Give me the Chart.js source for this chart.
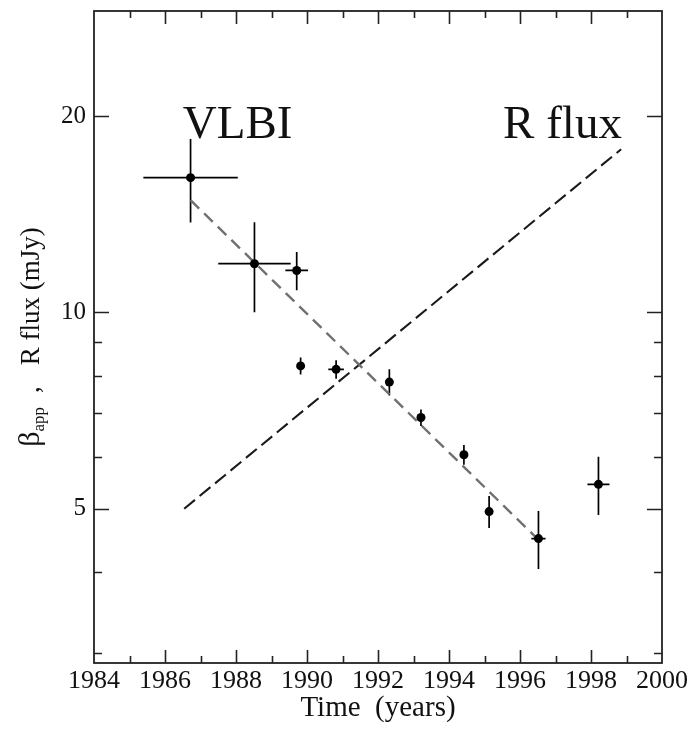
<!DOCTYPE html>
<html><head><meta charset="utf-8">
<script src="https://cdn.jsdelivr.net/npm/chart.js@4/dist/chart.umd.min.js"></script>
<style>html,body{margin:0;padding:0;background:#fff}</style>
</head><body>
<canvas id="c" width="693" height="729"></canvas>
<script>
// ---- data ----
const years    = [1986.72, 1988.52, 1989.71, 1989.82, 1990.82, 1992.32, 1993.21, 1994.42, 1995.13, 1996.52, 1998.21];
const beta     = [16.1, 11.88, 11.6, 8.28, 8.18, 7.82, 6.90, 6.05, 4.95, 4.50, 5.45];
const betaErr  = [2.36, 1.87, 0.78, 0.25, 0.27, 0.36, 0.20, 0.21, 0.28, 0.46, 0.56];
const yearErr  = [1.33, 1.02, 0.32, 0, 0.22, 0, 0, 0, 0, 0.20, 0.31];
const vlbiFitYears = [1986.72, 1996.45];
const vlbiFitVals  = [14.87, 4.52];
const rfluxYears   = [1986.54, 1998.85];
const rfluxVals    = [5.0, 17.8];
const xTickLabels  = [1984, 1986, 1988, 1990, 1992, 1994, 1996, 1998, 2000];
const xMinorTicks  = [1985, 1987, 1989, 1991, 1993, 1995, 1997, 1999];
const yTickLabels  = [5, 10, 20];
const yMinorTicks  = [3, 4, 6, 7, 8, 9];

const SERIF = "'Liberation Serif','Times New Roman',serif";
const notes = [
  {text: 'VLBI',   x: 1986.5,  y: 18.5, align: 'left'},
  {text: 'R flux', x: 1998.87, y: 18.5, align: 'right'}
];

const xAll = [...xTickLabels, ...xMinorTicks].sort((a,b)=>a-b);
const yAll = [...yTickLabels, ...yMinorTicks].sort((a,b)=>a-b);

const errorBars = {
  id: 'errorBars',
  beforeDatasetsDraw(chart) {
    const {ctx, scales: {x, y}} = chart;
    ctx.save();
    ctx.strokeStyle = '#000';
    ctx.lineWidth = 1.7;
    ctx.beginPath();
    years.forEach((t, i) => {
      const px = x.getPixelForValue(t), py = y.getPixelForValue(beta[i]);
      ctx.moveTo(px, y.getPixelForValue(beta[i] + betaErr[i]));
      ctx.lineTo(px, y.getPixelForValue(beta[i] - betaErr[i]));
      if (yearErr[i] > 0) {
        ctx.moveTo(x.getPixelForValue(t - yearErr[i]), py);
        ctx.lineTo(x.getPixelForValue(t + yearErr[i]), py);
      }
    });
    ctx.stroke();
    ctx.restore();
  }
};

const frame = {
  id: 'frame',
  afterDraw(chart) {
    const {ctx, chartArea: a, scales: {x, y}} = chart;
    ctx.save();
    ctx.strokeStyle = '#222';
    ctx.lineWidth = 1.8;
    ctx.strokeRect(a.left, a.top, a.right - a.left, a.bottom - a.top);
    ctx.lineWidth = 1.6;
    ctx.beginPath();
    xAll.forEach(v => {
      if (v <= x.min || v >= x.max) return;
      const px = Math.round(x.getPixelForValue(v)) + 0.5;
      const len = xTickLabels.includes(v) ? 13 : 7;
      ctx.moveTo(px, a.bottom); ctx.lineTo(px, a.bottom - len);
      ctx.moveTo(px, a.top); ctx.lineTo(px, a.top + len);
    });
    yAll.forEach(v => {
      const py = Math.round(y.getPixelForValue(v)) + 0.5;
      const len = yTickLabels.includes(v) ? 15 : 8;
      ctx.moveTo(a.left, py); ctx.lineTo(a.left + len, py);
      ctx.moveTo(a.right, py); ctx.lineTo(a.right - len, py);
    });
    ctx.stroke();

    // annotations
    ctx.fillStyle = '#111';
    ctx.font = `47px ${SERIF}`;
    ctx.textBaseline = 'alphabetic';
    notes.forEach(n => {
      ctx.textAlign = n.align;
      ctx.fillText(n.text, x.getPixelForValue(n.x), y.getPixelForValue(n.y));
    });

    // y axis title with subscript
    const midY = (a.top + a.bottom) / 2;
    ctx.translate(39, midY);
    ctx.rotate(-Math.PI / 2);
    ctx.textAlign = 'left';
    const fMain = `27px ${SERIF}`, fBeta = `30px ${SERIF}`, fSub = `17px ${SERIF}`;
    ctx.font = fBeta; const wb = ctx.measureText('\u03b2').width;
    ctx.font = fSub;  const ws = ctx.measureText('app').width;
    ctx.font = fMain; const wc = ctx.measureText(',').width;
    const wr = ctx.measureText('R flux (mJy)').width;
    const gap1 = 14, gap2 = 21;
    const total = wb + ws + gap1 + wc + gap2 + wr;
    let cx = -total / 2;
    ctx.font = fBeta; ctx.fillText('\u03b2', cx, 0); cx += wb;
    ctx.font = fSub;  ctx.fillText('app', cx, 5); cx += ws + gap1;
    ctx.font = fMain; ctx.fillText(',', cx, 0); cx += wc + gap2;
    ctx.fillText('R flux (mJy)', cx, 0);
    ctx.restore();
  }
};

new Chart(document.getElementById('c'), {
  type: 'scatter',
  data: {
    datasets: [
      {
        label: 'beta_app',
        data: years.map((t, i) => ({x: t, y: beta[i]})),
        pointRadius: 4.5, pointHoverRadius: 4.5,
        backgroundColor: '#000', borderWidth: 0, showLine: false
      },
      {
        label: 'VLBI fit',
        data: vlbiFitYears.map((t, i) => ({x: t, y: vlbiFitVals[i]})),
        showLine: true, pointRadius: 0, borderColor: '#707070',
        borderWidth: 2.4, borderDash: [12, 7], fill: false
      },
      {
        label: 'R flux',
        data: rfluxYears.map((t, i) => ({x: t, y: rfluxVals[i]})),
        showLine: true, pointRadius: 0, borderColor: '#1a1a1a',
        borderWidth: 2.1, borderDash: [14, 6], fill: false
      }
    ]
  },
  options: {
    responsive: false,
    animation: false,
    devicePixelRatio: 1,
    layout: {padding: {top: 11, right: 31, bottom: 0, left: 0}},
    plugins: {legend: {display: false}, tooltip: {enabled: false}},
    scales: {
      x: {
        type: 'linear', min: 1984, max: 2000,
        afterBuildTicks: s => { s.ticks = xAll.map(v => ({value: v})); },
        ticks: {
          autoSkip: false, maxRotation: 0, minRotation: 0, padding: 3,
          font: {family: SERIF, size: 26}, color: '#111',
          callback: v => xTickLabels.includes(v) ? String(v) : ''
        },
        grid: {display: false, drawTicks: false},
        border: {display: false},
        title: {
          display: true, text: 'Time  (years)',
          font: {family: SERIF, size: 29}, color: '#111',
          padding: {top: 0, bottom: 3}
        },
        afterFit: s => { s.height = 66; s.paddingLeft = 0; s.paddingRight = 0; }
      },
      y: {
        type: 'logarithmic', min: 2.9, max: 29,
        afterBuildTicks: s => { s.ticks = yAll.map(v => ({value: v})); },
        ticks: {
          autoSkip: false, padding: 8,
          font: {family: SERIF, size: 25}, color: '#111',
          callback: v => yTickLabels.includes(v) ? String(v) : ''
        },
        grid: {display: false, drawTicks: false},
        border: {display: false},
        afterFit: s => { s.width = 94; s.paddingTop = 0; s.paddingBottom = 0; }
      }
    }
  },
  plugins: [errorBars, frame]
});
</script>
</body></html>
